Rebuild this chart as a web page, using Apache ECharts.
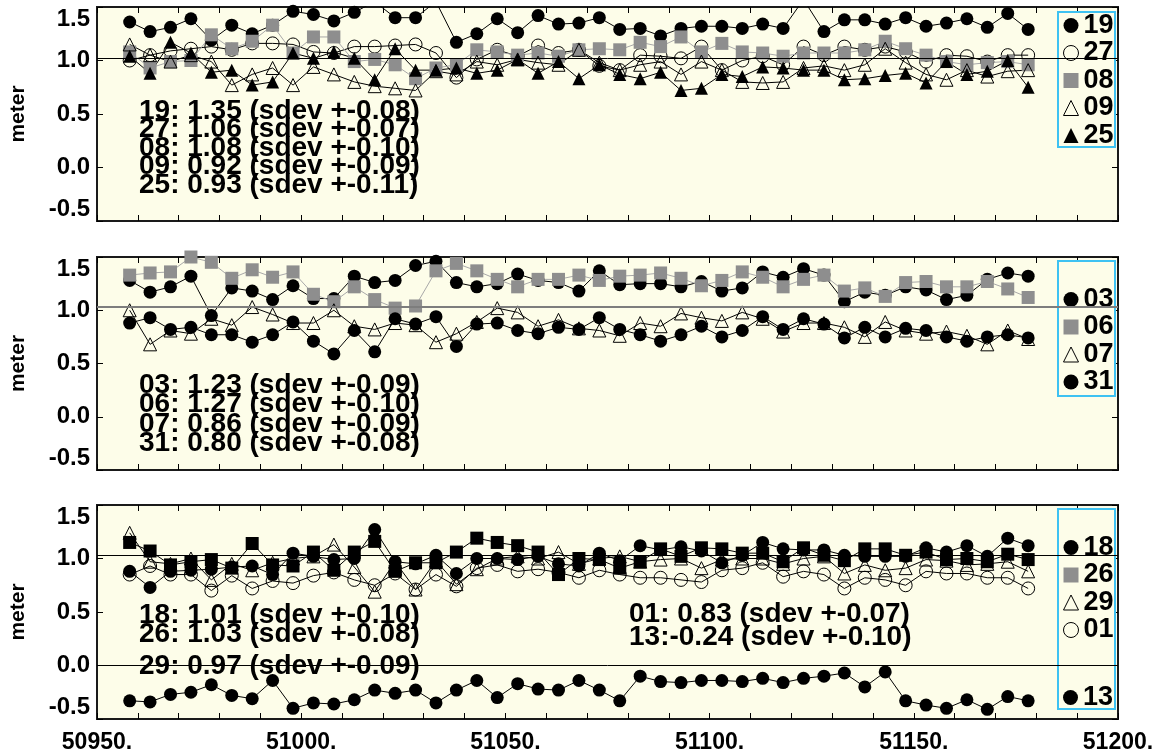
<!DOCTYPE html>
<html>
<head>
<meta charset="utf-8">
<script src="https://cdn.jsdelivr.net/npm/echarts@6/dist/echarts.min.js"></script>
<style>
html,body{margin:0;padding:0;background:#fff}
#chart{width:1164px;height:756px}
</style>
</head>
<body>
<div id="chart"></div>
<script>
// Observation epochs (MJD), shared by every station series
const days = [50958,50963,50968,50973,50978,50983,50988,50993,50998,51003,
  51008,51013,51018,51023,51028,51033,51038,51043,51048,51053,
  51058,51063,51068,51073,51078,51083,51088,51093,51098,51103,
  51108,51113,51118,51123,51128,51133,51138,51143,51148,51153,
  51158,51163,51168,51173,51178];

// Panel 1 stations
const s19 = [1.36,1.27,1.31,1.39,1.19,1.33,1.25,1.33,1.46,1.43,1.37,1.45,1.55,1.40,1.40,1.55,1.17,1.25,1.39,1.26,1.42,1.34,1.35,1.40,1.29,1.30,1.23,1.30,1.32,1.32,1.30,1.34,1.30,1.57,1.27,1.38,1.38,1.34,1.40,1.32,1.35,1.39,1.31,1.44,1.29];
const s27 = [1.00,1.05,1.09,1.11,1.13,1.10,1.16,1.16,1.15,1.08,1.07,1.13,1.13,1.14,1.15,1.07,0.84,1.01,1.10,1.04,1.14,1.07,1.10,0.95,0.91,1.05,1.04,1.02,1.13,0.91,1.00,1.04,0.96,1.13,1.05,1.13,1.10,1.13,1.08,0.99,1.05,1.04,0.99,1.05,1.05];
const s08 = [1.08,0.93,0.99,1.00,1.24,1.11,1.18,1.33,1.07,1.22,1.22,0.99,1.01,0.96,0.83,0.93,0.96,1.10,1.08,1.05,1.07,1.04,1.10,1.11,1.10,1.17,1.13,1.22,1.08,1.16,1.08,1.07,1.04,1.07,1.07,1.07,1.10,1.18,1.11,1.05,0.99,0.96,0.98,0.99,0.96];
const s09 = [1.15,1.05,0.99,1.05,0.99,0.77,0.87,0.93,0.77,0.94,0.87,0.80,0.76,0.74,0.72,0.90,0.87,0.99,0.96,1.01,0.98,0.96,1.10,0.98,0.91,0.96,0.99,0.87,0.99,0.91,0.80,0.79,0.80,0.93,0.95,0.91,0.96,1.11,0.98,0.87,0.82,0.91,0.85,0.90,0.91];
const s25 = [1.04,0.88,1.17,1.07,0.89,0.91,0.77,0.80,1.07,1.02,1.08,1.02,0.82,1.11,0.91,0.91,0.93,0.88,0.91,1.01,0.88,0.99,0.83,0.96,0.87,0.83,0.89,0.72,0.74,0.87,0.85,0.94,0.93,0.91,0.91,0.82,0.83,0.86,0.88,0.79,0.99,0.87,0.90,1.00,0.75];

// Panel 2 stations
const s03 = [1.28,1.17,1.22,1.32,0.95,1.21,1.18,1.10,1.23,1.11,1.11,1.32,1.26,1.28,1.42,1.46,1.26,1.22,1.25,1.34,1.28,1.26,1.18,1.37,1.24,1.25,1.25,1.22,1.27,1.18,1.21,1.36,1.31,1.39,1.33,1.08,1.17,1.14,1.22,1.19,1.10,1.14,1.29,1.35,1.32];
const s06 = [1.33,1.35,1.36,1.50,1.45,1.30,1.38,1.31,1.36,1.15,1.08,1.22,1.10,1.02,1.04,1.37,1.44,1.37,1.29,1.22,1.29,1.29,1.33,1.28,1.32,1.33,1.35,1.30,1.23,1.28,1.36,1.31,1.22,1.29,1.33,1.18,1.21,1.13,1.26,1.27,1.22,1.22,1.27,1.20,1.12];
const s07 = [1.00,0.68,0.81,0.78,0.92,0.86,1.03,0.96,0.88,0.88,1.00,0.85,0.82,0.88,0.86,0.70,0.78,0.89,1.02,0.98,0.85,0.91,0.83,0.81,0.76,0.88,0.85,0.97,0.93,0.90,0.98,0.92,0.80,0.88,0.88,0.84,0.75,0.89,0.81,0.78,0.80,0.76,0.68,0.81,0.73];
const s31 = [0.88,0.93,0.82,0.84,0.77,0.77,0.70,0.77,0.89,0.71,0.59,0.81,0.61,0.92,0.87,0.94,0.66,0.87,0.88,0.81,0.78,0.84,0.82,0.93,0.82,0.77,0.71,0.77,0.85,0.75,0.81,0.94,0.82,0.92,0.87,0.74,0.84,0.75,0.83,0.81,0.75,0.71,0.75,0.77,0.74];

// Panel 3 stations
const s18 = [0.88,0.73,0.88,0.89,0.90,0.92,0.93,0.85,1.05,1.02,0.99,1.00,1.27,0.97,0.95,1.03,0.86,1.00,1.00,0.99,1.02,0.95,0.93,1.05,0.98,1.12,1.08,1.11,1.07,0.96,1.03,1.15,1.09,1.08,1.08,1.03,1.02,1.02,1.02,1.10,1.06,1.12,1.02,1.19,1.12];
const s26 = [1.15,1.07,0.94,0.97,0.99,0.91,1.14,0.94,0.93,1.06,0.89,1.06,1.16,0.88,0.96,0.96,1.06,1.19,1.15,1.12,1.06,0.85,1.00,0.99,0.91,0.97,1.09,1.02,1.10,1.09,1.05,1.05,0.97,1.10,1.03,0.98,1.09,1.09,1.03,1.06,0.99,1.00,0.97,1.04,0.99];
const s29 = [1.24,0.97,0.95,1.00,0.80,0.95,0.89,0.96,1.00,1.02,1.13,0.92,0.69,0.97,0.71,0.98,0.76,0.90,1.00,1.02,1.00,1.06,0.95,1.00,1.02,0.97,0.99,1.00,0.91,0.99,1.00,1.00,0.95,1.00,1.02,0.86,0.94,0.89,0.91,0.99,0.98,0.94,0.95,0.97,0.88];
const s01 = [0.85,0.93,0.85,0.85,0.70,0.84,0.72,0.79,0.77,0.84,0.87,0.80,0.75,0.86,0.71,0.85,0.74,0.91,0.94,0.88,0.90,0.87,0.82,0.89,0.85,0.82,0.82,0.80,0.78,0.89,0.91,0.96,0.83,0.88,0.85,0.72,0.82,0.80,0.75,0.88,0.86,0.86,0.82,0.82,0.72];
const s13 = [-0.33,-0.34,-0.27,-0.25,-0.18,-0.28,-0.31,-0.14,-0.40,-0.35,-0.36,-0.32,-0.23,-0.26,-0.23,-0.35,-0.23,-0.14,-0.30,-0.17,-0.22,-0.23,-0.14,-0.23,-0.33,-0.10,-0.15,-0.16,-0.14,-0.14,-0.15,-0.12,-0.16,-0.12,-0.10,-0.07,-0.20,-0.06,-0.33,-0.37,-0.40,-0.32,-0.41,-0.29,-0.33];

// Summary statistics printed inside the panels
const notes1 = ['19: 1.35 (sdev +-0.08)','27: 1.06 (sdev +-0.07)','08: 1.08 (sdev +-0.10)','09: 0.92 (sdev +-0.09)','25: 0.93 (sdev +-0.11)'];
const notes2 = ['03: 1.23 (sdev +-0.09)','06: 1.27 (sdev +-0.10)','07: 0.86 (sdev +-0.09)','31: 0.80 (sdev +-0.08)'];
const notes3Left = ['18: 1.01 (sdev +-0.10)','26: 1.03 (sdev +-0.08)','29: 0.97 (sdev +-0.09)'];
const notes3Right = ['01: 0.83 (sdev +-0.07)','13:-0.24 (sdev +-0.10)'];

// Horizontal reference levels per panel
const refs1 = [1.025];
const refs2 = [1.03];
const refs3 = [1.03, 0.0];

const FONT = '"Liberation Sans", Arial, Helvetica, sans-serif';
const CREAM = '#fdfde9';
const GRAY = '#8e8e8e';
const GRAY_LINE = '#a8a8a8';
const CYAN = '#3ec2f2';
const CLEAR = 'rgba(0,0,0,0)';

const markerStyles = {
  dot:        {symbol: 'circle',   fill: '#000',  border: 0, line: '#000'},
  ring:       {symbol: 'circle',   fill: CLEAR,   border: 1, line: '#000'},
  graySquare: {symbol: 'rect',     fill: GRAY,    border: 0, line: GRAY_LINE},
  square:     {symbol: 'rect',     fill: '#000',  border: 0, line: '#000'},
  tri:        {symbol: 'triangle', fill: CLEAR,   border: 1, line: '#000'},
  triFill:    {symbol: 'triangle', fill: '#000',  border: 0, line: '#000'}
};

const panels = [
  {
    top: 7, height: 214, refs: refs1, refColor: '#000', refWidth: 1,
    series: [['19', s19, 'dot'], ['27', s27, 'ring'], ['08', s08, 'graySquare'], ['09', s09, 'tri'], ['25', s25, 'triFill']],
    legends: [{top: 12, items: [['19','dot'],['27','ring'],['08','graySquare'],['09','tri'],['25','triFill']]}],
    box: [1058, 12, 57, 135],
    notes: [{x: 139, ys: [111, 129.5, 148, 166.5, 185], lines: notes1}]
  },
  {
    top: 257, height: 213, refs: refs2, refColor: '#7d7d7d', refWidth: 2,
    series: [['03', s03, 'dot'], ['06', s06, 'graySquare'], ['07', s07, 'tri'], ['31', s31, 'dot']],
    legends: [{top: 286, items: [['03','dot'],['06','graySquare'],['07','tri'],['31','dot']]}],
    box: [1058, 261, 57, 135],
    notes: [{x: 139, ys: [385, 404.5, 424, 443.5], lines: notes2}]
  },
  {
    top: 505, height: 214, refs: refs3, refColor: '#000', refWidth: 1,
    series: [['18', s18, 'dot'], ['26', s26, 'square'], ['29', s29, 'tri'], ['01', s01, 'ring'], ['13', s13, 'dot']],
    legends: [
      {top: 534, items: [['18','dot'],['26','graySquare'],['29','tri'],['01','ring']]},
      {top: 684, items: [['13','dot']]}
    ],
    box: [1058, 509, 57, 200],
    notes: [
      {x: 139, ys: [615, 634.5, 666], lines: notes3Left},
      {x: 629, ys: [614, 637.5], lines: notes3Right}
    ]
  }
];

const grid = [], xAxis = [], yAxis = [], series = [], legend = [], graphic = [];

panels.forEach((p, g) => {
  grid.push({
    left: 97, top: p.top, width: 1021, height: p.height,
    show: true, backgroundColor: CREAM, borderColor: '#1a1a1a', borderWidth: 2
  });

  const tick = {show: true, inside: true, length: 6, lineStyle: {color: '#000', width: 1}};
  const isLast = g === panels.length - 1;
  ['bottom', 'top'].forEach(pos => {
    xAxis.push({
      gridIndex: g, type: 'value', position: pos,
      min: 50950, max: 51200, interval: 10,
      axisLine: {show: false, onZero: false}, axisTick: tick, splitLine: {show: false},
      axisLabel: {
        show: pos === 'bottom' && isLast,
        formatter: v => (v % 50 === 0 ? v + '.' : ''),
        fontFamily: FONT, fontSize: 23, fontWeight: 'bold', color: '#000', margin: 12
      }
    });
  });
  ['left', 'right'].forEach(pos => {
    yAxis.push({
      gridIndex: g, type: 'value', position: pos,
      min: -0.5, max: 1.5, interval: 0.5,
      axisLine: {show: false, onZero: false}, axisTick: tick, splitLine: {show: false},
      name: pos === 'left' ? 'meter' : '',
      nameLocation: 'middle', nameGap: 68,
      nameTextStyle: {fontFamily: FONT, fontSize: 21, fontWeight: 'bold', color: '#000'},
      axisLabel: {
        show: pos === 'left',
        formatter: v => v.toFixed(1),
        fontFamily: FONT, fontSize: 24, fontWeight: 'bold', color: '#000', margin: 7,
        verticalAlignMaxLabel: 'top', verticalAlignMinLabel: 'bottom'
      }
    });
  });

  p.series.forEach(([name, values, kind], k) => {
    const st = markerStyles[kind];
    const s = {
      type: 'line', name,
      xAxisIndex: 2 * g, yAxisIndex: 2 * g,
      data: days.map((d, i) => [d, values[i]]),
      symbol: st.symbol, symbolSize: 13,
      itemStyle: {color: st.fill, borderColor: '#000', borderWidth: st.border},
      lineStyle: {color: st.line, width: 1},
      emphasis: {disabled: true},
      clip: true, animation: false, z: 2
    };
    if (k === 0) {
      s.markLine = {
        silent: true, symbol: 'none', animation: false,
        label: {show: false},
        lineStyle: {color: p.refColor, width: p.refWidth, type: 'solid'},
        emphasis: {disabled: true},
        data: p.refs.map(v => ({yAxis: v}))
      };
    }
    series.push(s);
  });

  // legend frame
  graphic.push({
    type: 'rect', z: 3,
    shape: {x: p.box[0], y: p.box[1], width: p.box[2], height: p.box[3]},
    style: {fill: CREAM, stroke: CYAN, lineWidth: 2}
  });

  p.legends.forEach(lg => {
    legend.push({
      orient: 'vertical', left: 1063, top: lg.top, padding: 0,
      itemWidth: 15, itemHeight: 15, itemGap: 0.5, selectedMode: false, z: 4,
      textStyle: {fontFamily: FONT, fontSize: 27, fontWeight: 'bold', color: '#000', lineHeight: 26},
      data: lg.items.map(([name, kind]) => {
        const st = markerStyles[kind];
        return {
          name, icon: st.symbol,
          itemStyle: {color: st.fill, borderColor: '#000', borderWidth: st.border}
        };
      })
    });
  });

  p.notes.forEach(block => {
    block.lines.forEach((txt, j) => {
      graphic.push({
        type: 'text', z: 1, x: block.x, y: block.ys[j],
        style: {
          text: txt, fill: '#000',
          font: 'bold 28px ' + FONT,
          align: 'left', verticalAlign: 'middle',
          textAlign: 'left', textVerticalAlign: 'middle'
        }
      });
    });
  });
});

const chart = echarts.init(document.getElementById('chart'));
chart.setOption({
  animation: false,
  backgroundColor: '#fff',
  grid, xAxis, yAxis, series, legend, graphic
});
</script>
</body>
</html>
